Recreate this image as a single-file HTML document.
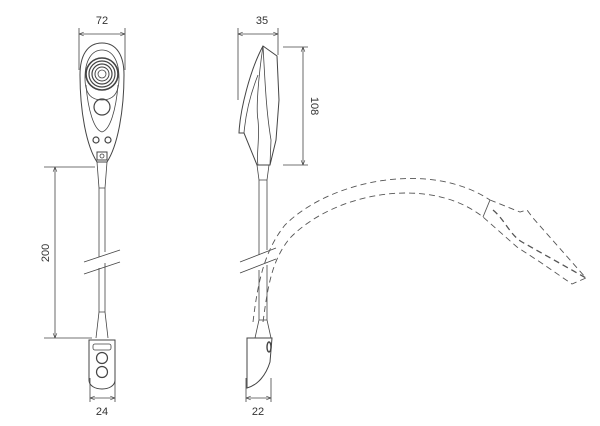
<!DOCTYPE html>
<html><head><style>
html,body{margin:0;padding:0;background:#fff;}
svg{display:block;}
text{font-family:"Liberation Sans",sans-serif;font-size:11px;fill:#333;}
</style></head><body>
<svg width="600" height="426" viewBox="0 0 600 426" xmlns="http://www.w3.org/2000/svg">
<defs>
<marker id="a" viewBox="0 0 10 10" refX="10" refY="5" markerWidth="6" markerHeight="6" orient="auto-start-reverse"><path d="M0,1 L10,5 L0,9" fill="none" stroke="#333" stroke-width="1.2"/></marker>
</defs>
<g stroke="#444" stroke-width="0.8" fill="none">
<line x1="79" y1="28" x2="79" y2="70"/><line x1="125" y1="28" x2="125" y2="70"/>
<line x1="79" y1="34" x2="125" y2="34" marker-start="url(#a)" marker-end="url(#a)"/>
<line x1="44" y1="167" x2="95" y2="167"/><line x1="44" y1="338" x2="92" y2="338"/>
<line x1="55" y1="167" x2="55" y2="338" marker-start="url(#a)" marker-end="url(#a)"/>
<line x1="90" y1="378" x2="90" y2="402"/><line x1="115" y1="378" x2="115" y2="402"/>
<line x1="90" y1="398" x2="115" y2="398" marker-start="url(#a)" marker-end="url(#a)"/>
<path d="M102,43 C87,43 80,56 80,75 C80,110 86,145 97,162 L107,162 C118,145 124,110 124,75 C124,56 117,43 102,43 Z" stroke-width="1"/>
<path d="M102,50 C92,50 85,60 85,78 C85,95 92,100 102,100 C112,100 119,95 119,78 C119,60 112,50 102,50 Z"/>
<path d="M86,85 C88,110 94,130 102,132 C110,130 116,110 118,85"/>
<circle cx="102" cy="74" r="16" stroke-width="1.6"/>
<circle cx="102" cy="74" r="13" stroke-width="1.2"/>
<circle cx="102" cy="74" r="10" stroke-width="1.2"/>
<circle cx="102" cy="74" r="7" stroke-width="1"/>
<circle cx="102" cy="74" r="4" stroke-width="0.8"/>
<circle cx="102" cy="107" r="8" stroke-width="1.2"/>
<circle cx="96" cy="140" r="3" stroke-width="1.2"/><circle cx="108" cy="140" r="3" stroke-width="1.2"/>
<rect x="97" y="152" width="10" height="8" stroke-width="1"/><circle cx="102" cy="156" r="2"/>
<path d="M97,162 L99,188 L99,257 M107,162 L105,188 L105,252 M99,188 L105,188"/>
<path d="M99,268 L99,312 L96,338 M105,263 L105,312 L108,338 M99,312 L105,312"/>
<line x1="84" y1="262" x2="120" y2="250"/><line x1="84" y1="274" x2="120" y2="262"/>
<path d="M89,340 L115,340 L115,380 C115,392 89,392 89,380 Z" stroke-width="1"/>
<rect x="93" y="344" width="18" height="6" rx="2"/>
<circle cx="102" cy="358" r="5.5" stroke-width="1.2"/><circle cx="102" cy="372" r="5.5" stroke-width="1.2"/>
<line x1="238" y1="28" x2="238" y2="100"/><line x1="278" y1="28" x2="278" y2="55"/>
<line x1="238" y1="34" x2="278" y2="34" marker-start="url(#a)" marker-end="url(#a)"/>
<line x1="283" y1="47" x2="308" y2="47"/><line x1="283" y1="165" x2="308" y2="165"/>
<line x1="303" y1="47" x2="303" y2="165" marker-start="url(#a)" marker-end="url(#a)"/>
<line x1="246" y1="378" x2="246" y2="402"/><line x1="271" y1="378" x2="271" y2="402"/>
<line x1="246" y1="398" x2="271" y2="398" marker-start="url(#a)" marker-end="url(#a)"/>
<path d="M263,46 L277,56 L279,100 L276,140 L270,165 L257,165 L244,133 L239,133 C240,110 250,70 263,46 Z" stroke-width="1"/>
<path d="M263,46 C265,80 266,110 271,140 L270,165"/>
<path d="M263,46 C258,80 256,110 258,120 C260,140 256,155 258,165"/>
<path d="M244,133 C246,110 252,90 258,75"/>
<path d="M257,165 L259,180 L259,255 M269,165 L267,180 L267,250 M259,180 L267,180"/>
<path d="M259,270 L259,320 L255,338 M267,265 L267,320 L271,338 M259,320 L267,320"/>
<line x1="240" y1="262" x2="276" y2="248"/><line x1="240" y1="273" x2="276" y2="259"/>
<path d="M247,338 L272,338 L270,362 C266,375 258,385 247,388 Z" stroke-width="1"/>
<ellipse cx="269" cy="347" rx="2" ry="5" stroke-width="1.4"/>
</g>
<g stroke="#555" stroke-width="0.9" fill="none" stroke-dasharray="6,4">
<path d="M253,322 C258,280 265,250 285,225 C330,180 430,160 490,200"/>
<path d="M263,322 C268,285 272,260 290,238 C335,192 430,175 483,217"/>
<path d="M490,200 L520,212 L527,210 L533,218 L586,278 L572,284 L540,262 L517,247 L483,217"/>
<path d="M493,210 C505,220 510,235 522,242 L586,278" stroke-width="1.3"/>
</g>
<line x1="490" y1="200" x2="483" y2="217" stroke="#555" stroke-width="0.9"/>
<text x="102" y="24" text-anchor="middle">72</text>
<text x="262" y="24" text-anchor="middle">35</text>
<text x="102" y="415" text-anchor="middle">24</text>
<text x="258" y="415" text-anchor="middle">22</text>
<text transform="translate(49,253) rotate(-90)" text-anchor="middle">200</text>
<text transform="translate(311,106) rotate(90)" text-anchor="middle">108</text>
</svg>
</body></html>
